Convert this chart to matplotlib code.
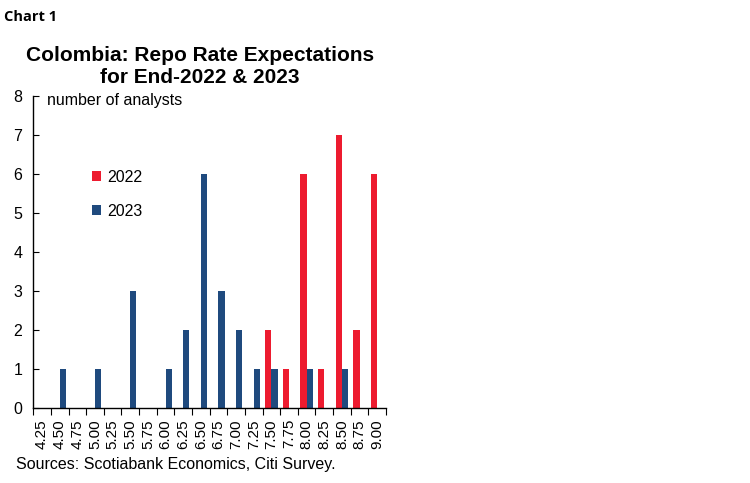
import numpy as np
import matplotlib
matplotlib.use("Agg")
import matplotlib.pyplot as plt

# repo rate buckets and number of analysts per bucket
rates = ["4.25", "4.50", "4.75", "5.00", "5.25", "5.50", "5.75", "6.00", "6.25", "6.50",
         "6.75", "7.00", "7.25", "7.50", "7.75", "8.00", "8.25", "8.50", "8.75", "9.00"]
end_2022 = [0, 0, 0, 0, 0, 0, 0, 0, 0, 0, 0, 0, 0, 2, 1, 6, 1, 7, 2, 6]
end_2023 = [0, 1, 0, 1, 0, 3, 0, 1, 2, 6, 3, 2, 1, 1, 0, 1, 0, 1, 0, 0]

red = "#ED1B2F"
blue = "#1F4A7E"

plt.rcParams["font.family"] = ["Liberation Sans", "DejaVu Sans"]

fig = plt.figure(figsize=(7.5, 4.83), dpi=100)
ax = fig.add_axes([0.0444, 0.1553, 0.4703, 0.6459])

x = np.arange(len(rates))
w = 0.35
ax.bar(x - w / 2, end_2022, width=w, color=red, label="2022")
ax.bar(x + w / 2, end_2023, width=w, color=blue, label="2023")

ax.set_xlim(-0.5, len(rates) - 0.5)
ax.set_ylim(0, 8)
ax.set_yticks(range(0, 9))
ax.tick_params(axis="y", direction="in", length=4, labelsize=11.5, pad=8)

# ticks sit on category boundaries, labels in the middle
ax.set_xticks(np.arange(len(rates) + 1) - 0.5)
ax.set_xticklabels([])
ax.set_xticks(x, minor=True)
ax.set_xticklabels(rates, minor=True, rotation=90, fontsize=11)
ax.tick_params(axis="x", which="major", direction="out", length=5)
ax.tick_params(axis="x", which="minor", length=0, pad=8)

for s in ["top", "right"]:
    ax.spines[s].set_visible(False)
for s in ["left", "bottom"]:
    ax.spines[s].set_linewidth(1.0)

ax.text(0.04, 0.985, "number of analysts", transform=ax.transAxes, fontsize=11.5, va="center")

leg = ax.legend(loc="upper left", bbox_to_anchor=(0.125, 0.81), frameon=False, fontsize=11.5,
                handlelength=0.55, handleheight=0.55, handletextpad=0.4, labelspacing=1.2)

fig.text(0.267, 0.862, "Colombia: Repo Rate Expectations\nfor End-2022 & 2023", ha="center",
         va="center", fontsize=15, fontweight="bold", linespacing=1.2)
fig.text(0.006, 0.965, "Chart 1", fontsize=10.5, fontweight="bold", va="center",
         family=["Open Sans", "DejaVu Sans"])
fig.text(0.022, 0.038, "Sources: Scotiabank Economics, Citi Survey.", fontsize=11.5, va="center")

fig.savefig("out.png", dpi=100)
